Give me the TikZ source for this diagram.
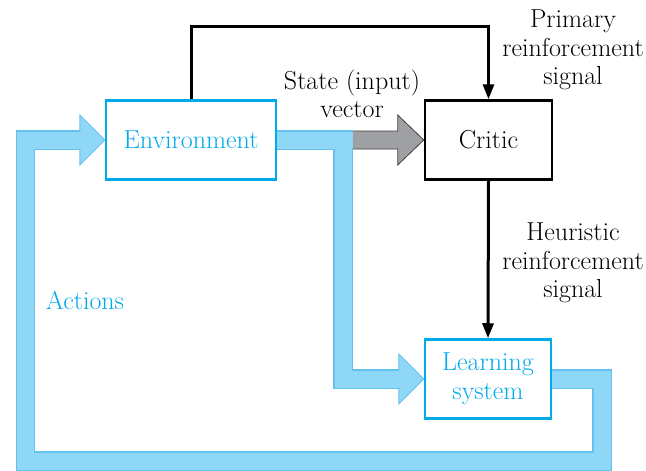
\documentclass[tikz,border=0pt]{standalone}
\usepackage{fontspec}
\usetikzlibrary{arrows.meta}

\definecolor{boxblue}{RGB}{0,170,235}
\definecolor{bandfill}{RGB}{142,215,246}
\definecolor{bandedge}{RGB}{100,195,238}
\definecolor{stategray}{RGB}{158,160,163}

\tikzset{
	block/.style={draw, line width=2.5pt, fill=white, minimum height=79pt, inner sep=0pt},
	blueblock/.style={block, draw=boxblue, text=boxblue},
	signal/.style={draw, line width=3pt, -{Triangle[length=15pt,width=11pt]}},
	bandout/.style={line width=19.5pt, draw=bandedge},
	bandin/.style={line width=17pt, draw=bandfill}
}

\begin{document}
\begin{tikzpicture}[x=1pt, y=-1pt, every node/.style={font=\fontsize{26}{28.5}\selectfont}]
				\useasboundingbox (0,0) rectangle (646,471);
				
				% Blocks
				\node[blueblock, minimum width=170pt] (env) at (191,140) {Environment};
				\node[block, minimum width=127pt] (critic) at (488.5,140) {Critic};
				\node[blueblock, minimum width=126pt, align=center] (learn) at (488,379) {Learning\\system};
				
				% Corners of the action loop
				\coordinate (loopR) at (602,461);
				\coordinate (loopL) at (25.5,461);
				\coordinate (split) at (343,140);
				
				% Thick blue band: edge first, then fill
				\draw[bandout] (learn.east) -| (loopR) -- (loopL) |- ([xshift=-25pt]env.west);
				\draw[bandout] (env.east) -- ([xshift=-71pt]critic.west);
				\draw[bandout] (split) |- ([xshift=-25pt]learn.west);
				\draw[bandin] (learn.east) -| (loopR) -- (loopL) |- ([xshift=-25pt]env.west);
				\draw[bandin] (env.east) -- ([xshift=-71pt]critic.west);
				\draw[bandin] (split) |- ([xshift=-25pt]learn.west);
				
				% Band arrow heads
				\fill[bandfill] (env.west) -- ++(-25,-25) -- ++(0,50) -- cycle;
				\draw[bandedge, line width=1pt] (env.west) ++(-25,-8.5) -- ++(0,-16.5) -- (env.west) -- ++(-25,25) -- ++(0,-16.5);
				\fill[bandfill] (learn.west) -- ++(-25,-25) -- ++(0,50) -- cycle;
				\draw[bandedge, line width=1pt] (learn.west) ++(-25,-8.5) -- ++(0,-16.5) -- (learn.west) -- ++(-25,25) -- ++(0,-16.5);
				
				% Gray state arrow
				\fill[stategray] (critic.west) -- ++(-26,-25) -- ++(0,16) -- ++(-45,0) -- ++(0,18) -- ++(45,0) -- ++(0,16) -- cycle;
				\draw[black!75, line width=0.8pt] (critic.west) ++(-71,-9) -- ++(45,0) -- ++(0,-16) -- (critic.west) -- ++(-26,25) -- ++(0,-16) -- ++(-45,0);
				
				% Redraw blocks over the band ends
				\node[blueblock, minimum width=170pt] at (env) {Environment};
				\node[blueblock, minimum width=126pt, align=center] at (learn) {Learning\\system};
				
				% Reinforcement signals
				\draw[signal] (env.north) -- ++(0,-73) -| (critic.north);
				\draw[signal] (critic.south) -- (learn.north);
				
				% Labels
				\node[align=center] (primary) at (573,50) {Primary\\reinforcement\\signal};
				\node[align=center] (state) at (352,94) {State (input)\\vector};
				\node[align=center] (heuristic) at (573,263) {Heuristic\\reinforcement\\signal};
				\node[text=boxblue] (actions) at (85,300) {Actions};
			\end{tikzpicture}
\end{document}
